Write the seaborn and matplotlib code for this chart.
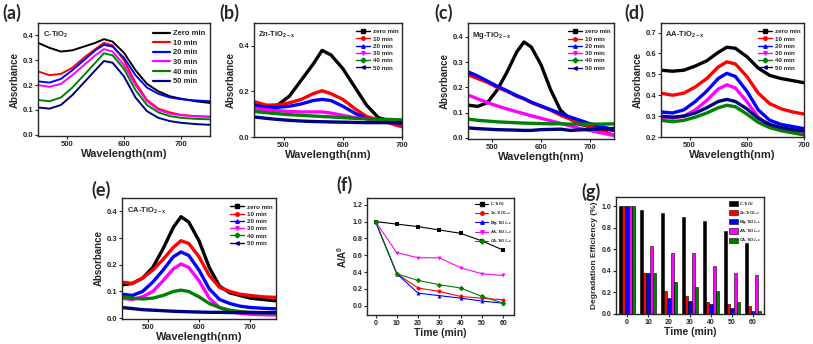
import pandas as pd
import seaborn as sns
import matplotlib.pyplot as plt
import numpy as np
from matplotlib.lines import Line2D

# wavelength grids
wl_long = [450, 470, 490, 510, 530, 550, 565, 580, 600, 620, 640, 660, 680, 700, 725, 750]
wl_short = [450, 470, 490, 510, 530, 550, 565, 580, 600, 620, 640, 660, 680, 700]

# (a) C-TiO2
a_curves = [
    [0.37, 0.35, 0.335, 0.34, 0.355, 0.37, 0.385, 0.375, 0.33, 0.26, 0.205, 0.175, 0.155, 0.145, 0.135, 0.128],
    [0.255, 0.24, 0.245, 0.27, 0.31, 0.345, 0.37, 0.36, 0.30, 0.21, 0.14, 0.105, 0.09, 0.08, 0.075, 0.073],
    [0.215, 0.21, 0.225, 0.26, 0.30, 0.34, 0.362, 0.355, 0.31, 0.24, 0.19, 0.165, 0.15, 0.143, 0.138, 0.135],
    [0.20, 0.193, 0.205, 0.24, 0.28, 0.32, 0.345, 0.335, 0.28, 0.20, 0.135, 0.10, 0.085, 0.078, 0.074, 0.072],
    [0.14, 0.135, 0.15, 0.19, 0.24, 0.29, 0.328, 0.32, 0.265, 0.18, 0.12, 0.09, 0.075, 0.068, 0.064, 0.062],
    [0.11, 0.105, 0.12, 0.16, 0.21, 0.26, 0.297, 0.29, 0.235, 0.15, 0.095, 0.068, 0.055, 0.048, 0.043, 0.04],
]
# (b) Zn-TiO2-x
b_curves = [
    [0.15, 0.135, 0.14, 0.18, 0.25, 0.32, 0.38, 0.36, 0.30, 0.22, 0.14, 0.085, 0.07, 0.065],
    [0.155, 0.14, 0.14, 0.15, 0.165, 0.19, 0.203, 0.19, 0.165, 0.125, 0.09, 0.075, 0.06, 0.045],
    [0.14, 0.13, 0.13, 0.135, 0.145, 0.16, 0.165, 0.16, 0.135, 0.105, 0.08, 0.07, 0.065, 0.06],
    [0.125, 0.12, 0.115, 0.112, 0.11, 0.11, 0.11, 0.105, 0.095, 0.085, 0.08, 0.075, 0.07, 0.068],
    [0.112, 0.107, 0.102, 0.098, 0.095, 0.092, 0.09, 0.088, 0.085, 0.082, 0.08, 0.078, 0.077, 0.075],
    [0.088, 0.082, 0.077, 0.073, 0.07, 0.068, 0.067, 0.066, 0.065, 0.064, 0.063, 0.063, 0.063, 0.063],
]
# (c) Mg-TiO2-x
c_curves = [
    [0.13, 0.125, 0.14, 0.19, 0.26, 0.34, 0.38, 0.36, 0.29, 0.19, 0.11, 0.075, 0.055, 0.045, 0.037, 0.03],
    [0.25, 0.235, 0.22, 0.20, 0.185, 0.165, 0.155, 0.14, 0.125, 0.11, 0.09, 0.075, 0.06, 0.045, 0.03, 0.01],
    [0.262, 0.245, 0.225, 0.205, 0.187, 0.168, 0.156, 0.142, 0.127, 0.112, 0.097, 0.083, 0.07, 0.057, 0.045, 0.032],
    [0.17, 0.155, 0.14, 0.127, 0.115, 0.104, 0.096, 0.088, 0.078, 0.068, 0.058, 0.048, 0.038, 0.03, 0.02, 0.01],
    [0.075, 0.07, 0.067, 0.064, 0.062, 0.06, 0.059, 0.058, 0.057, 0.056, 0.056, 0.055, 0.055, 0.055, 0.055, 0.056],
    [0.04, 0.037, 0.035, 0.033, 0.032, 0.031, 0.03, 0.03, 0.033, 0.034, 0.035, 0.03, 0.032, 0.034, 0.036, 0.038],
]
# (d) AA-TiO2-x
d_curves = [
    [0.52, 0.515, 0.52, 0.54, 0.565, 0.605, 0.63, 0.625, 0.585, 0.53, 0.495, 0.48, 0.47, 0.46],
    [0.41, 0.40, 0.41, 0.44, 0.48, 0.535, 0.56, 0.55, 0.49, 0.41, 0.36, 0.335, 0.32, 0.31],
    [0.32, 0.315, 0.33, 0.37, 0.42, 0.48, 0.505, 0.49, 0.42, 0.33, 0.28, 0.26, 0.25, 0.24],
    [0.295, 0.29, 0.30, 0.33, 0.375, 0.43, 0.45, 0.435, 0.37, 0.295, 0.25, 0.235, 0.228, 0.222],
    [0.28, 0.273, 0.28, 0.295, 0.315, 0.34, 0.352, 0.345, 0.31, 0.27, 0.245, 0.23, 0.22, 0.21],
    [0.30, 0.295, 0.30, 0.315, 0.34, 0.37, 0.38, 0.37, 0.335, 0.29, 0.26, 0.245, 0.235, 0.23],
]
# (e) CA-TiO2-x
e_curves = [
    [0.125, 0.13, 0.15, 0.19, 0.26, 0.34, 0.38, 0.36, 0.29, 0.19, 0.12, 0.095, 0.085, 0.075, 0.07, 0.065],
    [0.135, 0.13, 0.15, 0.18, 0.22, 0.265, 0.29, 0.28, 0.23, 0.16, 0.115, 0.10, 0.09, 0.085, 0.08, 0.078],
    [0.09, 0.085, 0.10, 0.135, 0.18, 0.23, 0.248, 0.235, 0.18, 0.11, 0.07, 0.055, 0.045, 0.04, 0.037, 0.035],
    [0.075, 0.07, 0.08, 0.10, 0.14, 0.185, 0.203, 0.19, 0.14, 0.075, 0.04, 0.025, 0.018, 0.015, 0.013, 0.012],
    [0.08, 0.075, 0.072, 0.075, 0.085, 0.10, 0.105, 0.10, 0.08, 0.055, 0.04, 0.03, 0.025, 0.022, 0.02, 0.02],
    [0.04, 0.036, 0.032, 0.03, 0.028, 0.026, 0.025, 0.024, 0.023, 0.022, 0.022, 0.021, 0.021, 0.021, 0.021, 0.021],
]

times_a = ['Zero min', '10 min', '20 min', '30 min', '40 min', '50 min']
times = ['zero min', '10 min', '20 min', '30 min', '40 min', '50 min']
spec_colors = ['#000000', '#ff0000', '#0000ff', '#ff00ff', '#008000', '#000080']
spec_markers = ['s', 'o', '^', 'v', 'D', '<']

# (f) and (g) kinetics
t_min = [0, 10, 20, 30, 40, 50, 60]
samples = ['C-TiO$_2$', 'Zn-TiO$_{2-x}$', 'Mg-TiO$_{2-x}$', 'AA-TiO$_{2-x}$', 'CA-TiO$_{2-x}$']
c_tio2 = [1.0, 0.97, 0.94, 0.90, 0.86, 0.77, 0.66]
zn_tio2 = [1.0, 0.38, 0.21, 0.17, 0.11, 0.09, 0.07]
mg_tio2 = [1.0, 0.38, 0.15, 0.12, 0.09, 0.055, 0.03]
aa_tio2 = [1.0, 0.63, 0.57, 0.57, 0.45, 0.38, 0.36]
ca_tio2 = [1.0, 0.38, 0.30, 0.25, 0.21, 0.11, 0.03]
kin_colors = ['#000000', '#ff0000', '#0000ff', '#ff00ff', '#008000']

sns.set_style('ticks')
plt.rcParams['font.family'] = ['Liberation Sans', 'DejaVu Sans']
plt.rcParams['font.weight'] = 'bold'
plt.rcParams['axes.labelweight'] = 'bold'
plt.rcParams['mathtext.fontset'] = 'custom'
plt.rcParams['mathtext.rm'] = 'Liberation Sans:bold'
plt.rcParams['mathtext.it'] = 'Liberation Sans:bold'
plt.rcParams['mathtext.default'] = 'rm'

W, H = 813, 344
fig = plt.figure(figsize=(W / 100, H / 100), dpi=100)


def box(x0, y0, x1, y1):
    return [x0 / W, 1 - y1 / H, (x1 - x0) / W, (y1 - y0) / H]


def style_ax(ax, lw=1.0, fs=5.5):
    for s in ax.spines.values():
        s.set_linewidth(lw)
        s.set_visible(True)
    ax.tick_params(labelsize=fs, width=0.8, length=2, pad=1.5)
    for lab in ax.get_xticklabels() + ax.get_yticklabels():
        lab.set_fontweight('bold')


def spectrum(rect, wl, curves, labels, title, xlim, ylim, yticks, markers, leg_fs, lw):
    ax = fig.add_axes(rect)
    df = pd.DataFrame({
        'wl': wl * len(curves),
        'abs': [v for c in curves for v in c],
        'time': [lab for lab in labels for _ in wl],
    })
    sns.lineplot(data=df, x='wl', y='abs', hue='time', palette=spec_colors,
                 linewidth=lw, legend=False, ax=ax, sort=False, estimator=None)
    ax.set_xlim(*xlim)
    ax.set_ylim(*ylim)
    ax.set_xticks([500, 600, 700])
    ax.set_yticks(yticks)
    ax.set_xlabel('Wavelength(nm)', fontsize=8, labelpad=1)
    ax.set_ylabel('Absorbance', fontsize=7, labelpad=2)
    style_ax(ax)
    handles = []
    for col, mk in zip(spec_colors, markers if markers else [None] * 6):
        handles.append(Line2D([], [], color=col, lw=1.6 if markers is None else 1.0,
                              marker=mk, markersize=2.5))
    ax.legend(handles, labels, loc='upper right', bbox_to_anchor=(1.0, 0.98), frameon=False,
              handlelength=2.2, handletextpad=0.4, labelspacing=0.3,
              borderaxespad=0.2, prop={'weight': 'bold', 'size': leg_fs})
    ax.text(0.03, 0.88, title, transform=ax.transAxes, fontsize=5.5, fontweight='bold')
    return ax


spectrum(box(38, 23, 210, 136), wl_long, a_curves, times_a, 'C-TiO$_2$',
         (450, 750), (-0.005, 0.45), [0.0, 0.1, 0.2, 0.3, 0.4], None, 5.5, 1.4)
spectrum(box(254, 23, 402, 137), wl_short, b_curves, times, 'Zn-TiO$_{2-x}$',
         (450, 700), (0, 0.5), [0.0, 0.2, 0.4], spec_markers, 4.5, 2.4)
spectrum(box(468, 23, 614, 139), wl_long, c_curves, times, 'Mg-TiO$_{2-x}$',
         (450, 750), (-0.004, 0.455), [0.0, 0.1, 0.2, 0.3, 0.4], spec_markers, 4.5, 2.4)
spectrum(box(661, 23, 804, 137), wl_short, d_curves, times, 'AA-TiO$_{2-x}$',
         (450, 700), (0.2, 0.746), [0.2, 0.3, 0.4, 0.5, 0.6, 0.7], spec_markers, 4.5, 2.4)
spectrum(box(122, 198, 276, 319), wl_long, e_curves, times, 'CA-TiO$_{2-x}$',
         (450, 750), (-0.003, 0.45), [0.0, 0.1, 0.2, 0.3, 0.4], spec_markers, 4.5, 2.4)

# (f) A/A0 vs time
kin = pd.DataFrame({
    't': t_min * 5,
    'val': c_tio2 + zn_tio2 + mg_tio2 + aa_tio2 + ca_tio2,
    'sample': [s for s in samples for _ in t_min],
})
axf = fig.add_axes(box(367, 198, 514, 315))
sns.lineplot(data=kin, x='t', y='val', hue='sample', style='sample',
             markers=['s', 'o', '^', 'v', 'D'], dashes=False, palette=kin_colors,
             linewidth=0.8, markersize=2.8, markeredgewidth=0, ax=axf, legend=False)
axf.set_xlim(-4, 65)
axf.set_ylim(-0.11, 1.28)
axf.set_xticks(t_min)
axf.set_yticks([0.0, 0.2, 0.4, 0.6, 0.8, 1.0, 1.2])
axf.set_xlabel('Time (min)', fontsize=7.5, labelpad=1)
axf.set_ylabel('A/A$^0$', fontsize=7, labelpad=2)
style_ax(axf, fs=5)
fh = [Line2D([], [], color=c, lw=0.8, marker=m, markersize=2.5)
      for c, m in zip(kin_colors, ['s', 'o', '^', 'v', 'D'])]
axf.legend(fh, samples, loc='upper right', frameon=False, handlelength=3.2,
           handletextpad=0.3, labelspacing=0.4, borderaxespad=0.15,
           prop={'weight': 'bold', 'size': 3})

# (g) degradation efficiency bars
axg = fig.add_axes(box(616, 197, 764, 314))
sns.barplot(data=kin, x='t', y='val', hue='sample', palette=kin_colors,
            edgecolor='black', linewidth=0.4, width=0.78, ax=axg, saturation=1)
axg.set_xlim(-0.53, 6.53)
axg.set_ylim(0, 1.087)
axg.set_yticks([0.0, 0.2, 0.4, 0.6, 0.8, 1.0])
axg.set_xlabel('Time (min)', fontsize=7.5, labelpad=1)
axg.set_ylabel('Degradation Efficiency (%)', fontsize=6, labelpad=2)
style_ax(axg, fs=5)
gh, gl = axg.get_legend_handles_labels()
axg.legend(gh, samples, loc='upper right', frameon=False, handlelength=2.2,
           handleheight=1.6, handletextpad=0.3, labelspacing=0.35, borderaxespad=0.3,
           prop={'weight': 'bold', 'size': 3})

# panel letters
letters = [('(a)', 2, 4), ('(b)', 219, 4), ('(c)', 434, 4), ('(d)', 624, 4),
           ('(e)', 91, 181), ('(f)', 336, 176), ('(g)', 581, 183)]
for txt, x, y in letters:
    fig.text(x / W, 1 - y / H, txt, fontsize=13, fontweight='bold', va='top',
             family=['Lato', 'DejaVu Sans'])

fig.savefig('out.png', dpi=100)
